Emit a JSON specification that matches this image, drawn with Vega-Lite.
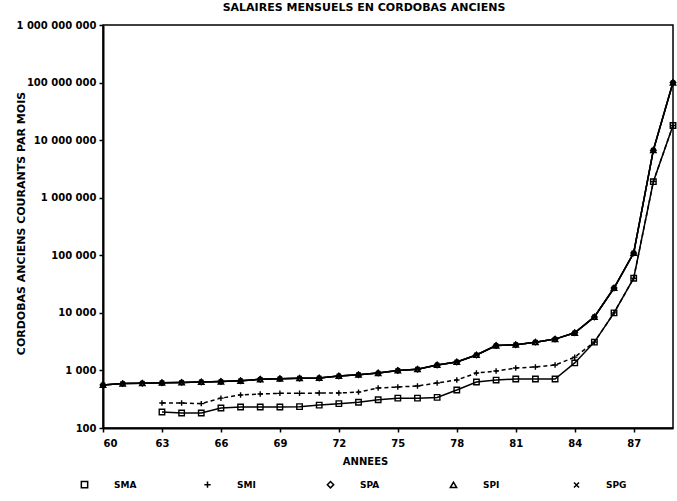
{
  "$schema": "https://vega.github.io/schema/vega-lite/v6.json",
  "width": 570,
  "height": 403,
  "autosize": {"type": "none"},
  "padding": {"left": 103, "top": 25, "right": 4, "bottom": 73},
  "background": "white",
  "title": {
    "text": "SALAIRES MENSUELS EN CORDOBAS ANCIENS",
    "font": "DejaVu Sans",
    "fontSize": 11,
    "fontWeight": "bold",
    "color": "black",
    "anchor": "middle",
    "offset": 7,
    "dx": -24
  },
  "config": {
    "font": "DejaVu Sans",
    "view": {"stroke": "black", "strokeWidth": 1.5},
    "axis": {
      "grid": false,
      "domainColor": "black",
      "domainWidth": 2,
      "tickColor": "black",
      "tickWidth": 1.5,
      "tickSize": 4,
      "labelColor": "black",
      "labelFont": "DejaVu Sans",
      "labelFontWeight": "bold",
      "labelFontSize": 10,
      "titleColor": "black",
      "titleFont": "DejaVu Sans",
      "titleFontWeight": "bold",
      "titleFontSize": 10
    }
  },
  "data": {
    "values": [
      {"year": 60, "series": "SPA", "value": 560}, {"year": 61, "series": "SPA", "value": 590}, {"year": 62, "series": "SPA", "value": 600}, {"year": 63, "series": "SPA", "value": 610}, {"year": 64, "series": "SPA", "value": 620}, {"year": 65, "series": "SPA", "value": 630}, {"year": 66, "series": "SPA", "value": 640}, {"year": 67, "series": "SPA", "value": 660}, {"year": 68, "series": "SPA", "value": 700}, {"year": 69, "series": "SPA", "value": 720}, {"year": 70, "series": "SPA", "value": 730}, {"year": 71, "series": "SPA", "value": 740}, {"year": 72, "series": "SPA", "value": 800}, {"year": 73, "series": "SPA", "value": 840}, {"year": 74, "series": "SPA", "value": 900}, {"year": 75, "series": "SPA", "value": 1000}, {"year": 76, "series": "SPA", "value": 1050}, {"year": 77, "series": "SPA", "value": 1240}, {"year": 78, "series": "SPA", "value": 1400}, {"year": 79, "series": "SPA", "value": 1850}, {"year": 80, "series": "SPA", "value": 2700}, {"year": 81, "series": "SPA", "value": 2800}, {"year": 82, "series": "SPA", "value": 3100}, {"year": 83, "series": "SPA", "value": 3500}, {"year": 84, "series": "SPA", "value": 4500}, {"year": 85, "series": "SPA", "value": 8500}, {"year": 86, "series": "SPA", "value": 27000}, {"year": 87, "series": "SPA", "value": 110000}, {"year": 88, "series": "SPA", "value": 6700000}, {"year": 89, "series": "SPA", "value": 100000000},
      {"year": 60, "series": "SPI", "value": 560}, {"year": 61, "series": "SPI", "value": 590}, {"year": 62, "series": "SPI", "value": 600}, {"year": 63, "series": "SPI", "value": 610}, {"year": 64, "series": "SPI", "value": 620}, {"year": 65, "series": "SPI", "value": 630}, {"year": 66, "series": "SPI", "value": 640}, {"year": 67, "series": "SPI", "value": 660}, {"year": 68, "series": "SPI", "value": 700}, {"year": 69, "series": "SPI", "value": 720}, {"year": 70, "series": "SPI", "value": 730}, {"year": 71, "series": "SPI", "value": 740}, {"year": 72, "series": "SPI", "value": 800}, {"year": 73, "series": "SPI", "value": 840}, {"year": 74, "series": "SPI", "value": 900}, {"year": 75, "series": "SPI", "value": 1000}, {"year": 76, "series": "SPI", "value": 1050}, {"year": 77, "series": "SPI", "value": 1240}, {"year": 78, "series": "SPI", "value": 1400}, {"year": 79, "series": "SPI", "value": 1850}, {"year": 80, "series": "SPI", "value": 2700}, {"year": 81, "series": "SPI", "value": 2800}, {"year": 82, "series": "SPI", "value": 3100}, {"year": 83, "series": "SPI", "value": 3500}, {"year": 84, "series": "SPI", "value": 4500}, {"year": 85, "series": "SPI", "value": 8500}, {"year": 86, "series": "SPI", "value": 27000}, {"year": 87, "series": "SPI", "value": 110000}, {"year": 88, "series": "SPI", "value": 6700000}, {"year": 89, "series": "SPI", "value": 100000000},
      {"year": 60, "series": "SPG", "value": 560}, {"year": 61, "series": "SPG", "value": 590}, {"year": 62, "series": "SPG", "value": 600}, {"year": 63, "series": "SPG", "value": 610}, {"year": 64, "series": "SPG", "value": 620}, {"year": 65, "series": "SPG", "value": 630}, {"year": 66, "series": "SPG", "value": 640}, {"year": 67, "series": "SPG", "value": 660}, {"year": 68, "series": "SPG", "value": 700}, {"year": 69, "series": "SPG", "value": 720}, {"year": 70, "series": "SPG", "value": 730}, {"year": 71, "series": "SPG", "value": 740}, {"year": 72, "series": "SPG", "value": 800}, {"year": 73, "series": "SPG", "value": 840}, {"year": 74, "series": "SPG", "value": 900}, {"year": 75, "series": "SPG", "value": 1000}, {"year": 76, "series": "SPG", "value": 1050}, {"year": 77, "series": "SPG", "value": 1240}, {"year": 78, "series": "SPG", "value": 1400}, {"year": 79, "series": "SPG", "value": 1850}, {"year": 80, "series": "SPG", "value": 2700}, {"year": 81, "series": "SPG", "value": 2800}, {"year": 82, "series": "SPG", "value": 3100}, {"year": 83, "series": "SPG", "value": 3500}, {"year": 84, "series": "SPG", "value": 4500}, {"year": 85, "series": "SPG", "value": 8500}, {"year": 86, "series": "SPG", "value": 27000}, {"year": 87, "series": "SPG", "value": 110000}, {"year": 88, "series": "SPG", "value": 6700000}, {"year": 89, "series": "SPG", "value": 100000000},
      {"year": 63, "series": "SMI", "value": 272}, {"year": 64, "series": "SMI", "value": 272}, {"year": 65, "series": "SMI", "value": 265}, {"year": 66, "series": "SMI", "value": 330}, {"year": 67, "series": "SMI", "value": 375}, {"year": 68, "series": "SMI", "value": 390}, {"year": 69, "series": "SMI", "value": 400}, {"year": 70, "series": "SMI", "value": 400}, {"year": 71, "series": "SMI", "value": 405}, {"year": 72, "series": "SMI", "value": 405}, {"year": 73, "series": "SMI", "value": 420}, {"year": 74, "series": "SMI", "value": 495}, {"year": 75, "series": "SMI", "value": 515}, {"year": 76, "series": "SMI", "value": 537}, {"year": 77, "series": "SMI", "value": 605}, {"year": 78, "series": "SMI", "value": 683}, {"year": 79, "series": "SMI", "value": 900}, {"year": 80, "series": "SMI", "value": 977}, {"year": 81, "series": "SMI", "value": 1100}, {"year": 82, "series": "SMI", "value": 1150}, {"year": 83, "series": "SMI", "value": 1240}, {"year": 84, "series": "SMI", "value": 1700}, {"year": 85, "series": "SMI", "value": 3100}, {"year": 86, "series": "SMI", "value": 10000}, {"year": 87, "series": "SMI", "value": 40000}, {"year": 88, "series": "SMI", "value": 1900000}, {"year": 89, "series": "SMI", "value": 18000000},
      {"year": 63, "series": "SMA", "value": 190}, {"year": 64, "series": "SMA", "value": 182}, {"year": 65, "series": "SMA", "value": 182}, {"year": 66, "series": "SMA", "value": 222}, {"year": 67, "series": "SMA", "value": 232}, {"year": 68, "series": "SMA", "value": 232}, {"year": 69, "series": "SMA", "value": 232}, {"year": 70, "series": "SMA", "value": 235}, {"year": 71, "series": "SMA", "value": 250}, {"year": 72, "series": "SMA", "value": 265}, {"year": 73, "series": "SMA", "value": 280}, {"year": 74, "series": "SMA", "value": 310}, {"year": 75, "series": "SMA", "value": 330}, {"year": 76, "series": "SMA", "value": 330}, {"year": 77, "series": "SMA", "value": 340}, {"year": 78, "series": "SMA", "value": 457}, {"year": 79, "series": "SMA", "value": 630}, {"year": 80, "series": "SMA", "value": 680}, {"year": 81, "series": "SMA", "value": 710}, {"year": 82, "series": "SMA", "value": 710}, {"year": 83, "series": "SMA", "value": 710}, {"year": 84, "series": "SMA", "value": 1350}, {"year": 85, "series": "SMA", "value": 3100}, {"year": 86, "series": "SMA", "value": 10000}, {"year": 87, "series": "SMA", "value": 40000}, {"year": 88, "series": "SMA", "value": 1900000}, {"year": 89, "series": "SMA", "value": 18000000}
    ]
  },
  "encoding": {
    "x": {
      "field": "year",
      "type": "quantitative",
      "scale": {"domain": [60, 89], "nice": false, "zero": false},
      "axis": {
        "title": "ANNEES",
        "values": [60, 63, 66, 69, 72, 75, 78, 81, 84, 87],
        "format": "d",
        "labelPadding": 6,
        "titlePadding": 8,
        "titleX": 262,
        "titleAlign": "center",
        "titleAnchor": null
      }
    },
    "y": {
      "field": "value",
      "type": "quantitative",
      "scale": {"type": "log", "domain": [100, 1000000000], "nice": false},
      "axis": {
        "title": "CORDOBAS ANCIENS COURANTS PAR MOIS",
        "values": [100, 1000, 10000, 100000, 1000000, 10000000, 100000000, 1000000000],
        "labelExpr": "replace(format(datum.value, ','), regexp(',', 'g'), ' ')",
        "labelPadding": 3,
        "titleFontSize": 11,
        "titleAngle": 270,
        "titleX": -82,
        "titleY": 198,
        "titleAlign": "center",
        "titleBaseline": "middle"
      }
    }
  },
  "layer": [
    {
      "transform": [{"filter": "datum.series != 'SMI'"}],
      "mark": {"type": "line", "color": "black", "strokeWidth": 1.5},
      "encoding": {
        "detail": {"field": "series", "type": "nominal"}
      }
    },
    {
      "transform": [{"filter": "datum.series == 'SMI'"}],
      "mark": {"type": "line", "color": "black", "strokeWidth": 1.5, "strokeDash": [4, 3]},
      "encoding": {}
    },
    {
      "mark": {"type": "point", "filled": false, "stroke": "black", "strokeWidth": 1.4, "size": 30, "opacity": 1},
      "encoding": {
        "shape": {
          "field": "series",
          "type": "nominal",
          "scale": {
            "domain": ["SMA", "SMI", "SPA", "SPI", "SPG"],
            "range": ["square", "M-1,0L1,0M0,-1L0,1", "diamond", "triangle-up", "M-0.8,-0.8L0.8,0.8M-0.8,0.8L0.8,-0.8"]
          },
          "legend": {
            "title": null,
            "orient": "none",
            "legendX": -23,
            "legendY": 455,
            "direction": "horizontal",
            "columns": 5,
            "gridAlign": "all",
            "columnPadding": 64,
            "labelOffset": 25,
            "padding": 0,
            "symbolSize": 40,
            "symbolStrokeColor": "black",
            "symbolFillColor": "transparent",
            "symbolStrokeWidth": 1.5,
            "labelFont": "DejaVu Sans",
            "labelFontWeight": "bold",
            "labelFontSize": 9,
            "labelColor": "black"
          }
        }
      }
    }
  ]
}
